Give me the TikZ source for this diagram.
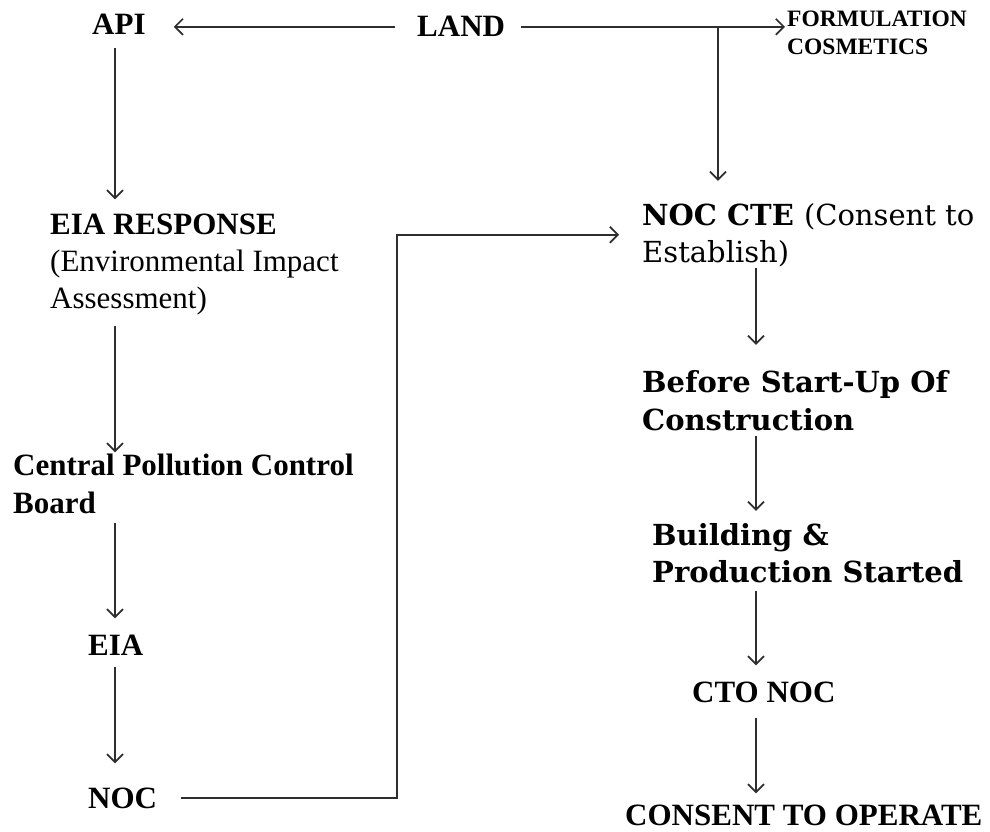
\documentclass[tikz,border=0pt]{standalone}
\usepackage{fontspec}
\setmainfont{Liberation Serif}
\newfontfamily\schoolbook{DejaVu Serif}
\usetikzlibrary{arrows.meta}
\definecolor{inkline}{HTML}{2E2E2E}
\begin{document}
\begin{tikzpicture}[x=1pt,y=-1pt,
  lbl/.style={anchor=base west, inner sep=0pt, align=left, text=black,
              font=\fontsize{31}{37}\selectfont\bfseries},
  small/.style={lbl, font=\fontsize{23.5}{28}\selectfont\bfseries},
  wide/.style={lbl, font=\schoolbook\fontsize{29}{37}\selectfont\bfseries},
  arr/.style={draw=inkline, line width=1.7pt,
              -{Straight Barb[length=8pt,width=16pt,line width=1.7pt]}}]
\useasboundingbox (0,0) rectangle (990,832);

% columns the vertical connectors run along
\coordinate (lc) at (115,0);
\coordinate (bx) at (718,0);
\coordinate (rc) at (756,0);

% top row (multi-line nodes are placed by the baseline of their last line)
\node[lbl] (api)  at (92,35)  {API};
\node[lbl] (land) at (417,37) {LAND};
\node[small] (form) at (787,55) {FORMULATION\\COSMETICS};

% left column
\node[lbl, font=\fontsize{31}{37}\selectfont] (eiar) at (50,308)
  {\bfseries EIA RESPONSE\\\mdseries(Environmental Impact\\\mdseries Assessment)};
\node[lbl, font=\fontsize{31}{38}\selectfont\bfseries] (cpcb) at (13,513)
  {Central Pollution Control\\Board};
\node[lbl] (eia) at (88,655) {EIA};
\node[lbl] (noc) at (88,808) {NOC};

% right column
\node[wide, font=\schoolbook\fontsize{29}{37}\selectfont] (nocte) at (642,262)
  {\bfseries NOC CTE \mdseries(Consent to\\\mdseries Establish)};
\node[wide, font=\schoolbook\fontsize{29}{38}\selectfont\bfseries] (before) at (642,430)
  {Before Start-Up Of\\Construction};
\node[wide] (build) at (652,582) {Building \&\\Production Started};
\node[lbl] (cto) at (692,702) {CTO NOC};
\node[lbl] (consent) at (625,825) {CONSENT TO OPERATE};

% top row connectors
\draw[arr, shorten <=22pt, shorten >=28pt] (land.west) -- (land.west -| api.east);
\draw[arr, shorten <=16pt, shorten >=2pt] (land.west -| land.east) -- (land.west -| form.west);
\draw[arr, shorten >=22pt] (land.west -| bx) -- (nocte.north -| bx);

% left column connectors
\draw[arr, shorten <=13pt, shorten >=14pt] (api.south -| lc) -- (eiar.north -| lc);
\draw[arr, shorten <=11pt, shorten >=1pt] (eiar.south -| lc) -- (cpcb.north -| lc);
\draw[arr, shorten <=9pt, shorten >=16pt] (cpcb.south -| lc) -- (eia.north -| lc);
\draw[arr, shorten <=12pt, shorten >=24pt] (eia.south -| lc) -- (noc.north -| lc);

% NOC feeds the consent-to-establish step
\draw[arr, shorten <=24pt, shorten >=23pt]
  (noc.east) -| ([xshift=-245pt]nocte.west) -- (nocte.west);

% right column connectors
\draw[arr, shorten <=1pt, shorten >=25pt] (nocte.south -| rc) -- (before.north -| rc);
\draw[arr, shorten <=5pt, shorten >=12pt] (before.south -| rc) -- (build.north -| rc);
\draw[arr, shorten <=8pt, shorten >=16pt] (build.south -| rc) -- (cto.north -| rc);
\draw[arr, shorten <=15pt, shorten >=11pt] (cto.south -| rc) -- (consent.north -| rc);
\end{tikzpicture}
\end{document}
